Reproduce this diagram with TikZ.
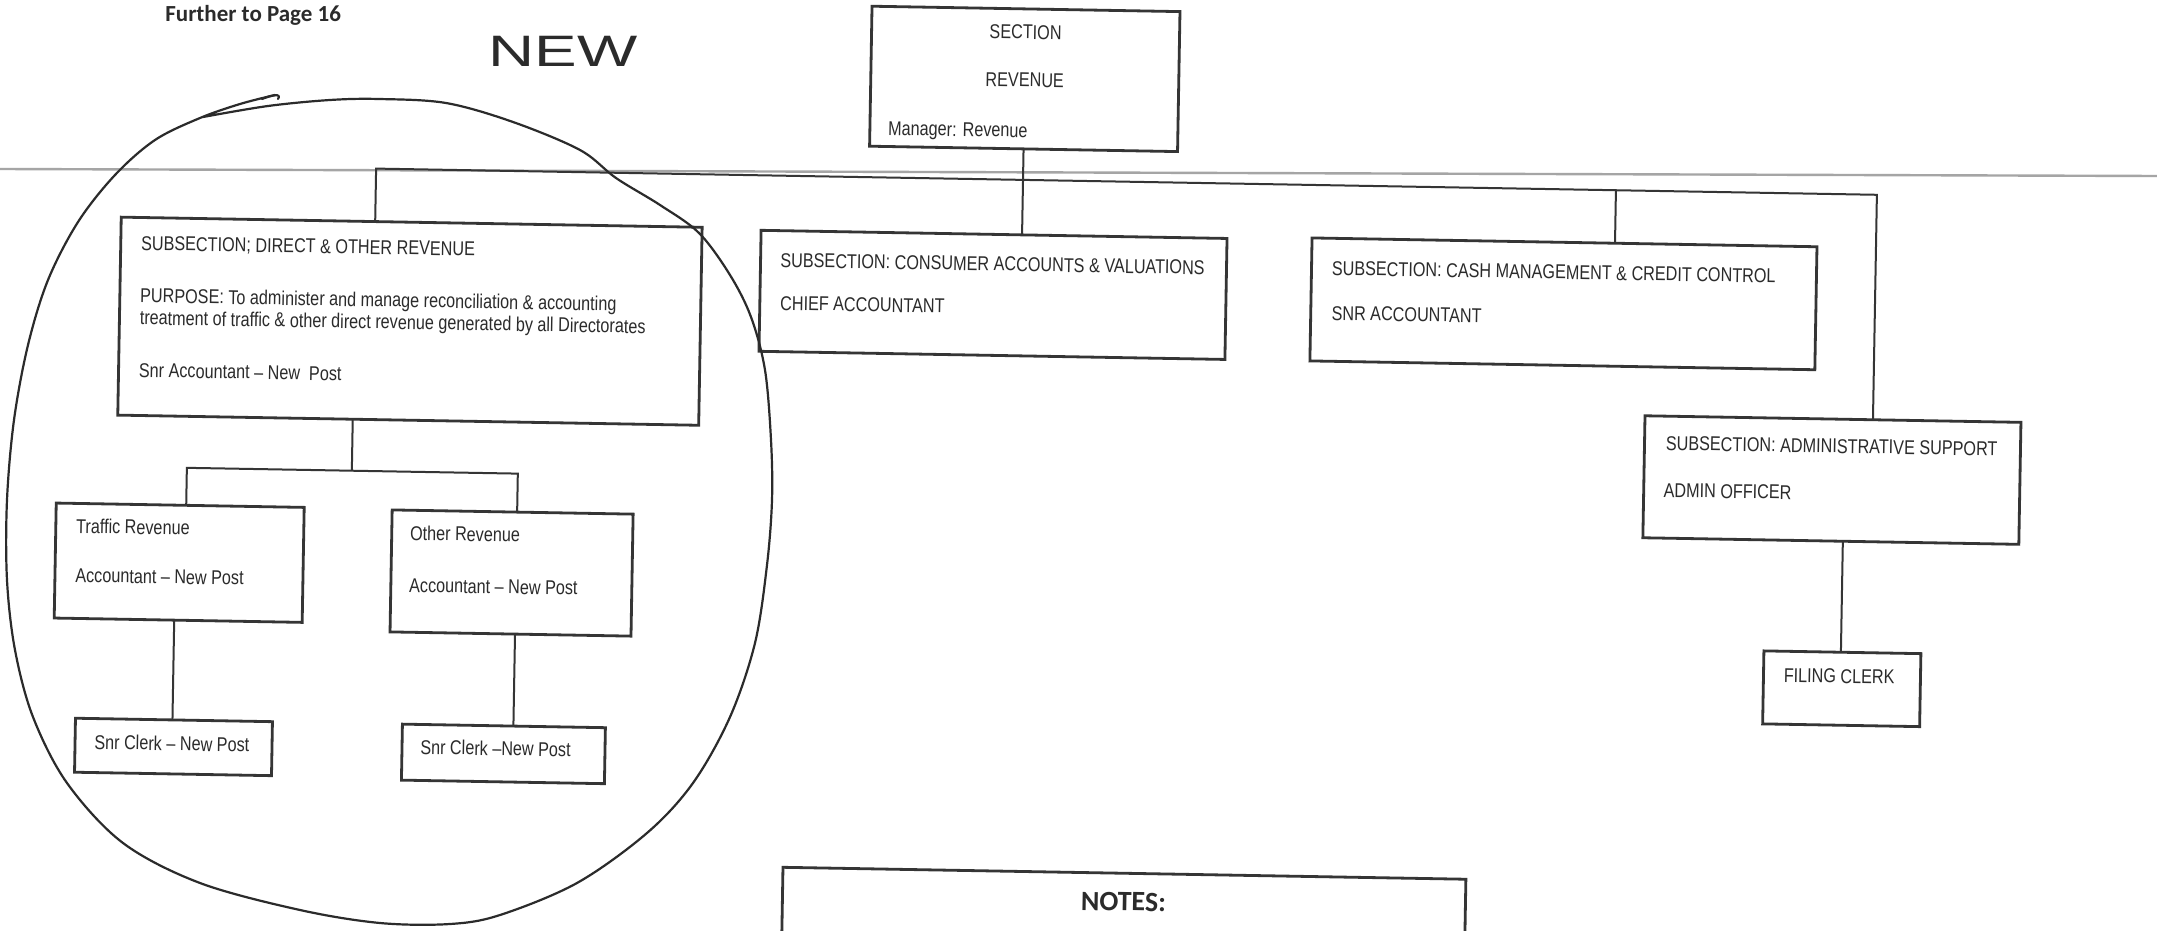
\documentclass[tikz,border=0pt]{standalone}
\usepackage{fontspec}
\setmainfont{Liberation Sans}[FakeStretch=0.81]
\newfontfamily\calfont{Carlito}
\newfontfamily\handfont{Liberation Sans}[FakeStretch=1.45]
\definecolor{ink}{HTML}{2B2B2B}
\definecolor{linec}{HTML}{353535}
\definecolor{scanline}{HTML}{A5A5A5}
\begin{document}
\begin{tikzpicture}[x=0.5pt,y=-0.5pt,
  box/.style={draw=linec, line width=1.4pt, inner sep=0pt, outer sep=0pt},
  conn/.style={draw=linec, line width=1pt},
  lbl/.style={anchor=base west, inner sep=0pt, font=\fontsize{10}{10}\selectfont, text=ink, text height=7pt, text depth=1pt},
  clbl/.style={lbl, anchor=base},
  hand/.style={draw=ink, line width=1.1pt, line cap=round, line join=round}]
\useasboundingbox (0,0) rectangle (2157,931);
\fill[white] (0,0) rectangle (2157,931);
\clip (0,0) rectangle (2157,931);

% scan line across the page
\draw[scanline, line width=1.2pt] (0,169) -- (2157,176);

% header texts
\node[anchor=base west, inner sep=0pt, font=\calfont\bfseries\fontsize{11.5}{13}\selectfont, text=ink] (hdr) at (165,22) {Further to Page 16};
\node[anchor=base west, inner sep=0pt, font=\handfont\fontsize{22}{24}\selectfont, text=ink] (newtxt) at (488,67) {NEW};

\begin{scope}[rotate=-1, transform shape]
  % boxes
  \node[box, minimum width=308*0.5pt, minimum height=140*0.5pt] (sec) at (1026,61) {};
  \node[box, minimum width=581*0.5pt, minimum height=198*0.5pt] (dor) at (415.5,314) {};
  \node[box, minimum width=466*0.5pt, minimum height=121*0.5pt] (cav) at (998,277.5) {};
  \node[box, minimum width=505*0.5pt, minimum height=123*0.5pt] (cmcc) at (1568.5,276.5) {};
  \node[box, minimum width=376*0.5pt, minimum height=122*0.5pt] (admin) at (1840,448) {};
  \node[box, minimum width=157*0.5pt, minimum height=73*0.5pt] (filing) at (1853.5,656.5) {};
  \node[box, minimum width=248*0.5pt, minimum height=115*0.5pt] (trf) at (189,559.5) {};
  \node[box, minimum width=241*0.5pt, minimum height=122*0.5pt] (oth) at (521.5,564) {};
  \node[box, minimum width=197*0.5pt, minimum height=54*0.5pt] (snrT) at (186.5,743.8) {};
  \node[box, minimum width=203*0.5pt, minimum height=56*0.5pt] (snrO) at (516.5,745) {};
  \node[box, minimum width=683*0.5pt, minimum height=153*0.5pt] (notes) at (1139.5,930) {};

  % junction points
  \coordinate (busL) at (379,162);
  \coordinate (busR) at (1880,162);
  \coordinate (busC) at (1619,162);
  \coordinate (dorD) at (360,464.5);
  \coordinate (brL) at (195,464.5);
  \coordinate (brR) at (526,464.5);
  \coordinate (trD) at (185,680);
  \coordinate (adD) at (1852,560);

  % connectors
  \draw[conn] (sec.south) -- (sec.south |- cav.north);
  \draw[conn] (dor.north -| busL) -- (busL) -- (busR) -- (admin.north -| busR);
  \draw[conn] (busC) -- (busC |- cmcc.north);
  \draw[conn] (dor.south -| dorD) -- (dorD);
  \draw[conn] (trf.north -| brL) -- (brL) -- (brR) -- (oth.north -| brR);
  \draw[conn] (trf.south -| trD) -- (snrT.north -| trD);
  \draw[conn] (oth.south -| brR) -- (snrO.north -| brR);
  \draw[conn] (admin.south -| adD) -- (filing.north -| adD);

  % texts
  \node[clbl] (t1) at (1026,21) {SECTION};
  \node[clbl] (t2) at (1026,69) {REVENUE};
  \node[lbl] (t3) at (890,119.5) {Manager: Revenue};

  \node[lbl] (t4) at (145,247.6) {SUBSECTION; DIRECT \& OTHER REVENUE};
  \node[anchor=north west, inner sep=0pt, align=left, font=\fontsize{10}{11}\selectfont, text=ink] (t5) at (145,285.2)
    {PURPOSE: To administer and manage reconciliation \& accounting\\treatment of traffic \& other direct revenue generated by all Directorates};
  \node[lbl] (t7) at (145,374.6) {Snr Accountant – New~ Post};

  \node[lbl] (t8) at (784.5,253.4) {SUBSECTION: CONSUMER ACCOUNTS \& VALUATIONS};
  \node[lbl] (t9) at (785,296.4) {CHIEF ACCOUNTANT};

  \node[lbl] (t10) at (1336,251.8) {SUBSECTION: CASH MANAGEMENT \& CREDIT CONTROL};
  \node[lbl] (t11) at (1336.5,296.8) {SNR ACCOUNTANT};

  \node[lbl] (t12) at (1673,420.9) {SUBSECTION: ADMINISTRATIVE SUPPORT};
  \node[lbl] (t13) at (1671.6,468) {ADMIN OFFICER};
  \node[lbl] (t14) at (1795,651) {FILING CLERK};

  \node[lbl] (t15) at (85,531.7) {Traffic Revenue};
  \node[lbl] (t16) at (85,580.7) {Accountant – New Post};
  \node[lbl] (t17) at (419,532.8) {Other Revenue};
  \node[lbl] (t18) at (419,584.9) {Accountant – New Post};
  \node[lbl] (t19) at (107,747.4) {Snr Clerk – New Post};
  \node[lbl] (t20) at (433,746.7) {Snr Clerk –New Post};

  \node[anchor=base, inner sep=0pt, font=\calfont\bfseries\fontsize{14}{16}\selectfont, text=ink] (t21) at (1139,891) {NOTES:};
\end{scope}

% hand-drawn loop
\draw[hand] plot[smooth, tension=0.55] coordinates {
  (203,117) (268,106) (330,100) (379,99) (446,103) (513,122) (580,150) (616,178)
  (660,205) (699,233) (730,275) (751,317) (765,370) (771,440) (772,500) (767,565)
  (755,643) (730,717) (693,783) (647,833) (577,883) (500,915) (450,924) (380,923)
  (300,910) (200,883) (123,843) (67,783) (33,717) (15,650) (7,580) (7,500)
  (14,420) (28,345) (48,280) (78,222) (115,175) (155,140) (200,118) (240,104) (275,95)};
\draw[hand] (262,99) .. controls (272,95) and (282,93) .. (278,99);
\end{tikzpicture}
\end{document}
